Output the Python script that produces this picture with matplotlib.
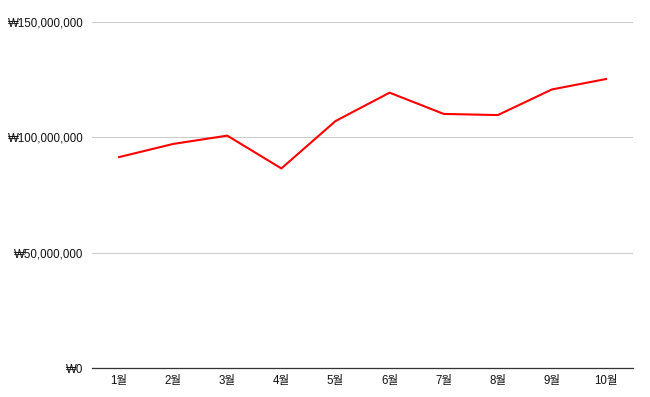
import matplotlib
matplotlib.use("Agg")
import matplotlib.pyplot as plt
import matplotlib.ticker as mticker

plt.rcParams["font.family"] = ["Liberation Sans", "Noto Sans CJK KR", "DejaVu Sans"]

months = ["1월", "2월", "3월", "4월", "5월", "6월", "7월", "8월", "9월", "10월"]
sales = [91300000, 97000000, 100600000, 86400000, 106900000,
         119200000, 110000000, 109500000, 120600000, 125100000]
y_ticks = [0, 50000000, 100000000, 150000000]

fig = plt.figure(figsize=(6.5, 3.97), dpi=100)
ax = fig.add_axes([0.1415, 0.073, 0.8325, 0.8728])

x = list(range(len(months)))
ax.plot(x, sales, color="#ff0000", linewidth=1.5, zorder=3)

ax.set_xlim(-0.5, len(months) - 0.5)
ax.set_ylim(0, 150000000)
ax.set_xticks(x)
ax.set_xticklabels(months)
ax.set_yticks(y_ticks)
ax.yaxis.set_major_formatter(mticker.FuncFormatter(lambda v, _: f"₩{v:,.0f}"))

ax.grid(axis="y", color="#cccccc", linewidth=0.8)
ax.set_axisbelow(True)
for s in ["top", "right", "left"]:
    ax.spines[s].set_visible(False)
ax.spines["bottom"].set_color("#333333")
ax.spines["bottom"].set_linewidth(0.9)
ax.tick_params(axis="both", length=0, labelsize=8.3, colors="#111111")
ax.tick_params(axis="y", pad=6)
ax.tick_params(axis="x", pad=5)

plt.savefig("out.png", dpi=100)
